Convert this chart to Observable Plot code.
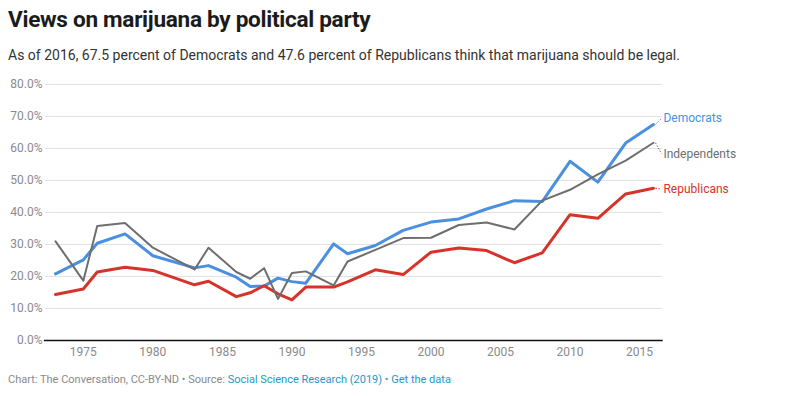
<!DOCTYPE html>
<html>
<head>
<meta charset="utf-8">
<script src="https://cdn.jsdelivr.net/npm/d3@7"></script>
<script src="https://cdn.jsdelivr.net/npm/@observablehq/plot@0.6"></script>
<style>
  html, body { margin: 0; padding: 0; background: #fff; }
  body { width: 806px; height: 396px; overflow: hidden; font-family: Roboto, "Noto Sans", sans-serif; }
  #title { position: absolute; left: 8px; top: 6px; font-size: 22.6px; font-weight: 700; color: #1b1b1b; letter-spacing: -0.3px; }
  #subtitle { position: absolute; left: 8px; top: 47px; font-size: 14px; color: #333; }
  #chart { position: absolute; left: 0; top: 72px; }
  #footer { position: absolute; left: 8px; top: 373px; font-size: 11px; color: #8a8a8a; }
  #footer a { color: #1c9ac6; text-decoration: none; }
</style>
</head>
<body>
<div id="title">Views on marijuana by political party</div>
<div id="subtitle">As of 2016, 67.5 percent of Democrats and 47.6 percent of Republicans think that marijuana should be legal.</div>
<div id="chart"></div>
<div id="footer">Chart: The Conversation, CC-BY-ND • Source: <a>Social Science Research (2019)</a> • <a>Get the data</a></div>
<script>
const years = [1973,1975,1976,1978,1980,1983,1984,1986,1987,1988,1989,1990,1991,1993,1994,1996,1998,2000,2002,2004,2006,2008,2010,2012,2014,2016];
const democrats = [20.8,25.2,30.4,33.3,26.5,22.7,23.4,19.8,16.9,17.0,19.5,18.4,17.9,30.2,27.1,29.7,34.4,37.0,38.0,41.1,43.7,43.4,56.0,49.5,61.7,67.5];
const independents = [31.0,18.7,35.8,36.7,29.0,22.2,29.0,21.4,19.3,22.6,13.0,21.1,21.6,17.2,24.7,28.3,32.0,32.1,36.1,36.9,34.7,43.7,47.1,51.9,56.2,61.8];
const republicans = [14.4,16.1,21.4,22.9,21.9,17.4,18.5,13.7,14.9,17.1,14.6,12.7,16.7,16.7,18.3,22.1,20.6,27.6,28.9,28.1,24.3,27.4,39.3,38.2,45.8,47.6];
const seriesNames = ["Democrats", "Republicans", "Independents"];
const yTicks = [0,10,20,30,40,50,60,70,80];
const xTicks = [1975,1980,1985,1990,1995,2000,2005,2010,2015];

const colors = {Democrats: "#4a8fe0", Republicans: "#d6332a", Independents: "#6e6e6e"};
const widths = {Democrats: 3, Republicans: 3, Independents: 2};
const labelDy = {Democrats: -6, Republicans: 1, Independents: 11};

const valuesBy = {Democrats: democrats, Republicans: republicans, Independents: independents};
const rows = seriesNames.flatMap(s => years.map((y, i) => ({series: s, year: y, value: valuesBy[s][i]})));
const last = seriesNames.map(s => ({series: s, year: years[years.length-1], value: valuesBy[s][years.length-1]}));

const marginLeft = 45, marginRight = 144, marginTop = 12, marginBottom = 30;
const pxPerYear = 13.9, pxPerPct = 3.2;

const plot = Plot.plot({
  width: 806,
  height: 12 + 256 + 30,
  marginLeft, marginRight, marginTop, marginBottom,
  style: {fontFamily: "Roboto, sans-serif", fontSize: "12px", color: "#8a8a8a", background: "transparent"},
  x: {domain: [1972.28, 2016.65], ticks: xTicks, tickFormat: d => String(d), tickSize: 0, tickPadding: 7, label: null},
  y: {domain: [0, 80], ticks: yTicks, tickFormat: d => d.toFixed(1) + "%", tickSize: 0, tickPadding: 3, label: null},
  marks: [
    Plot.ruleY(yTicks.filter(d => d > 0), {stroke: "#e2e2e2", strokeWidth: 1}),
    ...seriesNames.map(s => Plot.line(rows.filter(r => r.series === s), {
      x: "year", y: "value", stroke: colors[s], strokeWidth: widths[s], strokeLinejoin: "round", strokeLinecap: "round"
    })),
    Plot.ruleY([0], {stroke: "#111", strokeWidth: 1.3, x1: 1972.2, x2: 2016.7}),
    Plot.link(last, {
      x1: d => d.year + 2 / pxPerYear, y1: d => d.value,
      x2: d => d.year + 8 / pxPerYear, y2: d => d.value - labelDy[d.series] / pxPerPct,
      stroke: d => colors[d.series], strokeWidth: 1, strokeDasharray: "1.5,1.5"
    }),
    Plot.text(last, {
      x: "year", y: "value", text: "series",
      textAnchor: "start", fill: d => colors[d.series], fontSize: 12,
      render: (index, scales, values, dims, ctx, next) => {
        const g = next(index, scales, values, dims, ctx);
        d3.select(g).selectAll("text").each(function(_, j) {
          const i = index[j];
          const s = last[i].series;
          d3.select(this).attr("transform", `translate(${values.x[i] + 10},${values.y[i] + labelDy[s]})`);
        });
        return g;
      }
    })
  ]
});
document.getElementById("chart").appendChild(plot);
</script>
</body>
</html>
